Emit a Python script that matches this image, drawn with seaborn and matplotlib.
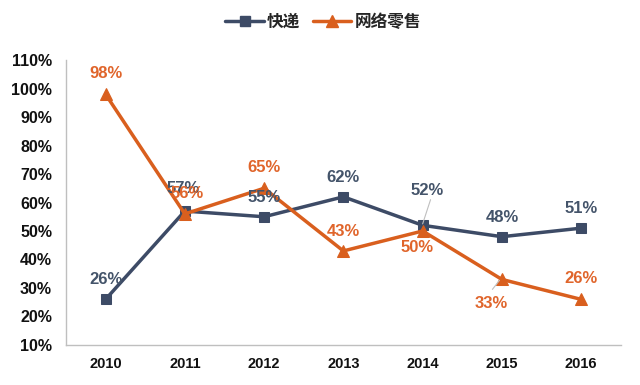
import matplotlib
matplotlib.use("Agg")
import matplotlib.pyplot as plt
import seaborn as sns
import pandas as pd
from matplotlib.lines import Line2D

years = ["2010", "2011", "2012", "2013", "2014", "2015", "2016"]
express = [26, 57, 55, 62, 52, 48, 51]
retail = [98, 56, 65, 43, 50, 33, 26]
series_names = ["快递", "网络零售"]
yticks = [10, 20, 30, 40, 50, 60, 70, 80, 90, 100, 110]

sns.set_theme(style="white")
plt.rcParams['font.family'] = ['Liberation Sans', 'Noto Sans CJK SC', 'DejaVu Sans']

navy = "#3D4B66"
orange = "#D95F1E"
navy_txt = "#44546A"
orange_txt = "#E0652B"

df = pd.DataFrame({
    "pos": list(range(len(years))) * 2,
    "value": express + retail,
    "series": [series_names[0]] * len(years) + [series_names[1]] * len(years),
})

fig = plt.figure(figsize=(6.4, 3.85), dpi=100)
ax = fig.add_axes([0.103, 0.104, 0.867, 0.740])

sns.lineplot(data=df[df.series == series_names[0]], x="pos", y="value", ax=ax,
             color=navy, linewidth=2.5, marker="s", markersize=7,
             markeredgecolor=navy, legend=False)
sns.lineplot(data=df[df.series == series_names[1]], x="pos", y="value", ax=ax,
             color=orange, linewidth=2.5, marker="^", markersize=8,
             markeredgecolor=orange, legend=False)

ax.set_xlim(-0.5, len(years) - 0.5)
ax.set_ylim(10, 110)
ax.set_yticks(yticks)
ax.set_yticklabels([f"{v}%" for v in yticks], fontsize=11.5, fontweight="bold", color="#111111")
ax.set_xticks(range(len(years)))
ax.set_xticklabels(years, fontsize=10.5, fontweight="bold", color="#111111")
ax.set_xlabel("")
ax.set_ylabel("")
ax.tick_params(axis="y", length=0, pad=10)
ax.tick_params(axis="x", length=0, pad=9)
for s in ["top", "right"]:
    ax.spines[s].set_visible(False)
for s in ["left", "bottom"]:
    ax.spines[s].set_color("#BFBFBF")
    ax.spines[s].set_linewidth(1)

# data labels (offset in points)
exp_off = [(0, 14), (-1, 16), (0, 14), (0, 14), (3, 25), (0, 14), (0, 14)]
ret_off = [(0, 15), (2, 15), (0, 15), (0, 14), (-4, -12), (-8, -17), (0, 15)]
for i, v in enumerate(express):
    ax.annotate(f"{v}%", (i, v), xytext=exp_off[i], textcoords="offset points",
                ha="center", va="center", fontsize=12, fontweight="bold", color=navy_txt)
for i, v in enumerate(retail):
    ax.annotate(f"{v}%", (i, v), xytext=ret_off[i], textcoords="offset points",
                ha="center", va="center", fontsize=12, fontweight="bold", color=orange_txt)
# leader lines
ax.annotate("", (4, express[4] + 0.5), xytext=(4.1, express[4] + 9),
            arrowprops=dict(arrowstyle="-", color="#BFBFBF", lw=0.8, shrinkA=0, shrinkB=0))
ax.annotate("", (4.97, retail[5] - 0.3), xytext=(4.88, retail[5] - 3.5),
            arrowprops=dict(arrowstyle="-", color="#BFBFBF", lw=0.8, shrinkA=0, shrinkB=0))

handles = [
    Line2D([0], [0], color=navy, lw=2.5, marker="s", markersize=7),
    Line2D([0], [0], color=orange, lw=2.5, marker="^", markersize=8),
]
leg = fig.legend(handles, series_names, loc="center", bbox_to_anchor=(0.505, 0.943),
                 ncol=2, frameon=False, handlelength=2.3, columnspacing=0.75,
                 handletextpad=0.2,
                 prop=dict(family=["Noto Sans CJK SC", "DejaVu Sans"], weight="bold", size=12))

fig.savefig("out.png", dpi=100)
